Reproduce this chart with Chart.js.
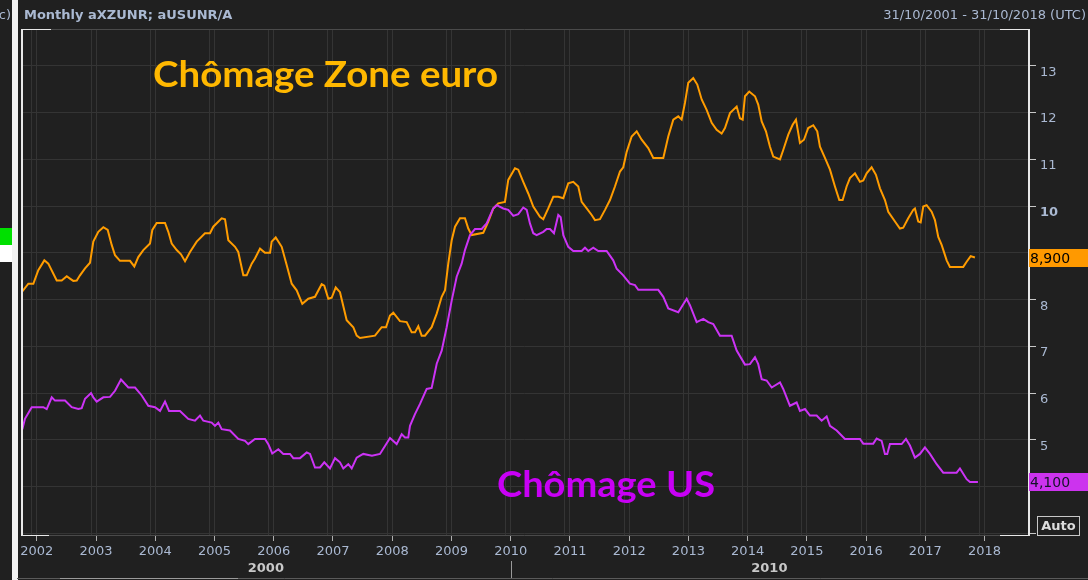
<!DOCTYPE html>
<html><head><meta charset="utf-8">
<script src="https://cdn.jsdelivr.net/npm/chart.js@4.4.1/dist/chart.umd.min.js"></script>
<style>html,body{margin:0;padding:0;background:#202020;overflow:hidden}#wrap{width:1088px;height:580px;position:relative}</style>
</head><body><div id="wrap"><canvas id="c" width="1088" height="580"></canvas></div>
<script>
// ---- data (decimal years, percent) ----
const euroDates = [2001.745,2001.857,2001.941,2002.025,2002.127,2002.194,2002.336,2002.42,2002.505,2002.56,2002.616,2002.674,2002.729,2002.814,2002.898,2002.954,2003.038,2003.123,2003.197,2003.264,2003.32,2003.404,2003.573,2003.646,2003.713,2003.798,2003.911,2003.95,2004.024,2004.164,2004.22,2004.277,2004.362,2004.434,2004.502,2004.586,2004.699,2004.839,2004.924,2004.979,2005.121,2005.177,2005.233,2005.346,2005.401,2005.486,2005.543,2005.628,2005.683,2005.768,2005.852,2005.937,2005.965,2006.033,2006.134,2006.218,2006.303,2006.387,2006.482,2006.583,2006.696,2006.809,2006.853,2006.921,2006.978,2007.046,2007.118,2007.231,2007.343,2007.40,2007.456,2007.709,2007.822,2007.895,2007.962,2008.018,2008.131,2008.244,2008.329,2008.384,2008.44,2008.497,2008.553,2008.666,2008.751,2008.835,2008.891,2008.946,2009.004,2009.06,2009.144,2009.228,2009.284,2009.341,2009.537,2009.622,2009.706,2009.79,2009.903,2009.959,2010.072,2010.128,2010.212,2010.297,2010.381,2010.494,2010.55,2010.634,2010.719,2010.803,2010.888,2010.972,2011.056,2011.141,2011.198,2011.283,2011.367,2011.423,2011.507,2011.592,2011.676,2011.76,2011.845,2011.90,2011.958,2012.042,2012.127,2012.211,2012.322,2012.407,2012.576,2012.66,2012.745,2012.829,2012.886,2012.942,2012.998,2013.082,2013.15,2013.224,2013.308,2013.393,2013.477,2013.561,2013.617,2013.702,2013.815,2013.87,2013.916,2013.955,2014.027,2014.124,2014.179,2014.237,2014.309,2014.377,2014.432,2014.546,2014.601,2014.686,2014.76,2014.816,2014.883,2014.951,2015.023,2015.108,2015.175,2015.221,2015.305,2015.39,2015.474,2015.547,2015.604,2015.671,2015.727,2015.812,2015.896,2015.952,2016.009,2016.093,2016.166,2016.234,2016.318,2016.374,2016.487,2016.571,2016.627,2016.711,2016.796,2016.824,2016.88,2016.921,2016.965,2017.022,2017.106,2017.162,2017.218,2017.275,2017.36,2017.415,2017.64,2017.697,2017.765,2017.837];
const euroValues = [8.16,8.34,8.34,8.63,8.84,8.77,8.41,8.41,8.50,8.45,8.40,8.41,8.52,8.67,8.79,9.24,9.45,9.55,9.49,9.17,8.95,8.83,8.83,8.71,8.91,9.06,9.20,9.49,9.64,9.64,9.45,9.20,9.06,8.97,8.82,9.02,9.24,9.42,9.42,9.56,9.74,9.72,9.27,9.13,9.02,8.52,8.52,8.77,8.88,9.09,9.00,9.00,9.24,9.33,9.13,8.74,8.34,8.20,7.91,8.02,8.06,8.33,8.30,8.02,8.04,8.26,8.16,7.56,7.41,7.23,7.18,7.23,7.41,7.41,7.66,7.72,7.54,7.52,7.30,7.30,7.43,7.23,7.23,7.41,7.70,8.06,8.20,8.77,9.27,9.56,9.74,9.74,9.52,9.38,9.43,9.67,9.95,10.06,10.09,10.56,10.81,10.78,10.52,10.27,9.99,9.77,9.72,9.95,10.20,10.20,10.17,10.49,10.52,10.42,10.09,9.95,9.81,9.70,9.72,9.92,10.13,10.42,10.74,10.83,11.16,11.49,11.60,11.42,11.24,11.03,11.03,11.49,11.85,11.92,11.85,12.21,12.64,12.74,12.60,12.28,12.06,11.78,11.63,11.55,11.67,11.99,12.13,11.88,11.85,12.35,12.45,12.35,12.17,11.81,11.60,11.27,11.06,11.00,11.20,11.53,11.74,11.85,11.35,11.42,11.67,11.73,11.60,11.27,11.03,10.78,10.42,10.13,10.13,10.42,10.60,10.70,10.52,10.55,10.70,10.83,10.67,10.38,10.13,9.88,9.67,9.52,9.54,9.74,9.92,9.95,9.67,9.65,9.99,10.02,9.88,9.70,9.34,9.17,8.84,8.70,8.70,8.81,8.93,8.90];
const usDates = [2001.755,2001.80,2001.914,2002.11,2002.167,2002.252,2002.307,2002.476,2002.589,2002.701,2002.758,2002.814,2002.915,2002.954,2003.011,2003.123,2003.236,2003.32,2003.421,2003.545,2003.658,2003.771,2003.882,2003.995,2004.08,2004.164,2004.232,2004.304,2004.417,2004.557,2004.67,2004.755,2004.811,2004.952,2005.008,2005.064,2005.121,2005.261,2005.401,2005.515,2005.57,2005.683,2005.852,2005.908,2005.975,2006.077,2006.161,2006.274,2006.33,2006.443,2006.556,2006.612,2006.696,2006.781,2006.853,2006.949,2007.034,2007.118,2007.174,2007.258,2007.316,2007.40,2007.511,2007.658,2007.793,2007.878,2007.962,2008.075,2008.16,2008.215,2008.271,2008.30,2008.384,2008.469,2008.582,2008.666,2008.751,2008.835,2008.919,2009.004,2009.088,2009.172,2009.228,2009.313,2009.397,2009.51,2009.594,2009.706,2009.763,2009.875,2009.959,2010.044,2010.128,2010.212,2010.27,2010.325,2010.381,2010.438,2010.55,2010.607,2010.663,2010.73,2010.803,2010.844,2010.888,2010.972,2011.056,2011.198,2011.254,2011.31,2011.394,2011.478,2011.62,2011.731,2011.789,2011.90,2012.013,2012.098,2012.154,2012.491,2012.576,2012.66,2012.829,2012.971,2013.026,2013.139,2013.251,2013.335,2013.42,2013.533,2013.73,2013.815,2013.955,2014.039,2014.124,2014.179,2014.237,2014.321,2014.406,2014.546,2014.601,2014.714,2014.827,2014.883,2014.968,2015.052,2015.165,2015.249,2015.334,2015.39,2015.503,2015.643,2015.896,2015.952,2016.12,2016.178,2016.262,2016.318,2016.357,2016.402,2016.60,2016.673,2016.74,2016.824,2016.909,2016.993,2017.078,2017.191,2017.302,2017.528,2017.584,2017.697,2017.753,2017.888];
const usValues = [5.23,5.45,5.70,5.70,5.66,5.91,5.84,5.84,5.70,5.66,5.68,5.88,6.00,5.91,5.82,5.91,5.92,6.05,6.29,6.12,6.12,5.95,5.73,5.70,5.62,5.82,5.62,5.62,5.62,5.45,5.41,5.52,5.41,5.37,5.30,5.37,5.23,5.20,5.02,4.98,4.91,5.02,5.02,4.91,4.71,4.80,4.70,4.70,4.61,4.61,4.73,4.70,4.41,4.41,4.52,4.39,4.61,4.52,4.39,4.48,4.39,4.62,4.70,4.66,4.70,4.87,5.04,4.91,5.12,5.05,5.05,5.30,5.55,5.77,6.09,6.11,6.63,6.91,7.41,7.98,8.49,8.77,9.06,9.38,9.51,9.51,9.63,9.95,10.02,9.95,9.92,9.79,9.83,9.97,9.92,9.63,9.42,9.38,9.45,9.51,9.51,9.42,9.81,9.76,9.38,9.13,9.04,9.04,9.11,9.04,9.11,9.04,9.04,8.84,8.66,8.52,8.34,8.31,8.21,8.21,8.06,7.81,7.73,8.02,7.88,7.52,7.59,7.52,7.48,7.23,7.23,6.91,6.61,6.62,6.77,6.62,6.30,6.27,6.12,6.23,6.09,5.73,5.80,5.62,5.66,5.52,5.52,5.41,5.50,5.30,5.20,5.02,5.02,4.92,4.92,5.03,4.98,4.70,4.70,4.91,4.91,5.02,4.88,4.62,4.70,4.84,4.70,4.48,4.30,4.30,4.39,4.16,4.10,4.10];
const yearTicks = [2002,2003,2004,2005,2006,2007,2008,2009,2010,2011,2012,2013,2014,2015,2016,2017,2018];
const valueTicks = [3,4,5,6,7,8,9,10,11,12,13];
const hiddenTickLabels = [3,4];
const decadeLabels = ['2000','2010'];
const seriesNames = ['Chômage Zone euro','Chômage US'];
const lastLabels = ['8,900','4,100'];
const lastValues = [8.9,4.1];
const headerLeft = 'Monthly aXZUNR; aUSUNR/A';
const headerRight = '31/10/2001 - 31/10/2018 (UTC)';

const BG = '#202020', GRID = '#343434', LBL = '#aab9d2';
const ORANGE = '#ff9c00', PURPLE = '#cc33f5';

function fitText(c, txt, x, y, width) {
  const w = c.measureText(txt).width;
  c.save(); c.translate(x, y); c.scale(width / w, 1); c.fillText(txt, 0, 0); c.restore();
}

const frame = {
  id: 'frame',
  beforeDraw(chart) {
    const c = chart.ctx;
    c.save(); c.fillStyle = BG; c.fillRect(0, 0, chart.width, chart.height); c.restore();
  },
  beforeDatasetsDraw(chart) {
    const c = chart.ctx, x = chart.scales.x, a = chart.chartArea;
    c.save(); c.strokeStyle = GRID; c.lineWidth = 1;
    yearTicks.forEach(y => {
      const px = Math.round(x.getPixelForValue(y - 0.093)) + 0.5;
      if (px > a.left) { c.beginPath(); c.moveTo(px, a.top); c.lineTo(px, a.bottom); c.stroke(); }
    });
    c.restore();
  },
  afterDraw(chart) {
    const c = chart.ctx, a = chart.chartArea, ys = chart.scales.y, xs = chart.scales.x;
    c.save();
    // left strip
    c.fillStyle = '#f2f2f2'; c.fillRect(12, 0, 6, 580);
    c.fillStyle = '#00e000'; c.fillRect(0, 228, 12, 17);
    c.fillStyle = '#ffffff'; c.fillRect(0, 245, 12, 17);
    c.fillStyle = LBL; c.font = '13px "DejaVu Sans"'; c.textBaseline = 'alphabetic';
    c.textAlign = 'right'; c.fillText('c)', 11, 19);
    // header
    c.textAlign = 'left'; c.font = 'bold 13px "DejaVu Sans"'; c.fillStyle = LBL;
    c.fillText(headerLeft, 24, 19);
    c.textAlign = 'right'; c.font = '13px "DejaVu Sans"';
    c.fillText(headerRight, 1086, 19);
    // frame
    c.lineWidth = 1;
    c.strokeStyle = '#4a4a4a';
    c.beginPath(); c.moveTo(a.left, a.top + 0.5); c.lineTo(a.right, a.top + 0.5); c.stroke();
    c.beginPath(); c.moveTo(a.left, a.bottom + 0.5); c.lineTo(a.right, a.bottom + 0.5); c.stroke();
    c.strokeStyle = '#e8e8e8'; c.lineWidth = 2;
    c.beginPath(); c.moveTo(a.left + 1, a.top); c.lineTo(a.left + 1, a.bottom + 1); c.stroke();
    c.beginPath(); c.moveTo(a.right + 1, a.top); c.lineTo(a.right + 1, a.bottom + 1); c.stroke();
    c.lineWidth = 1;
    c.beginPath(); c.moveTo(a.left, a.top + 0.5); c.lineTo(a.left + 30, a.top + 0.5); c.stroke();
    c.beginPath(); c.moveTo(a.right - 28, a.top + 0.5); c.lineTo(a.right, a.top + 0.5); c.stroke();
    c.beginPath(); c.moveTo(a.left, a.bottom + 0.5); c.lineTo(a.left + 28, a.bottom + 0.5); c.stroke();
    c.beginPath(); c.moveTo(a.right - 28, a.bottom + 0.5); c.lineTo(a.right, a.bottom + 0.5); c.stroke();
    // last value badges
    const badge = (v, txt, col, tcol) => {
      const py = Math.round(ys.getPixelForValue(v));
      c.fillStyle = col; c.fillRect(a.right + 1, py - 9, 1088 - a.right - 1, 18);
      c.fillStyle = tcol; c.font = '14px "DejaVu Sans"'; c.textAlign = 'left'; c.textBaseline = 'middle';
      c.fillText(txt, a.right + 2, py + 1);
    };
    badge(lastValues[0], lastLabels[0], '#ff9900', '#000000');
    badge(lastValues[1], lastLabels[1], '#cc33ee', '#141428');
    // Auto box
    c.fillStyle = BG; c.fillRect(1037, 516, 43, 20);
    c.strokeStyle = '#c8c8c8'; c.lineWidth = 1; c.strokeRect(1037.5, 516.5, 42, 19);
    c.fillStyle = '#dcdcdc'; c.font = 'bold 13px "DejaVu Sans"'; c.textAlign = 'center'; c.textBaseline = 'middle';
    c.fillText('Auto', 1058.5, 526.5);
    // decade row
    c.font = 'bold 13px "DejaVu Sans"'; c.fillStyle = '#c8c8c8'; c.textAlign = 'center'; c.textBaseline = 'middle';
    const x2010 = xs.getPixelForValue(2010);
    c.fillText(decadeLabels[0], (a.left + x2010) / 2, 569);
    c.fillText(decadeLabels[1], (x2010 + a.right) / 2, 569);
    c.strokeStyle = '#9a9a9a'; c.beginPath(); c.moveTo(Math.round(x2010) + 0.5, 561); c.lineTo(Math.round(x2010) + 0.5, 578); c.stroke();
    // bottom scrollbar line
    c.strokeStyle = '#5a5a5a'; c.beginPath(); c.moveTo(17, 578.5); c.lineTo(1088, 578.5); c.stroke();
    c.strokeStyle = '#9a9a9a'; c.beginPath(); c.moveTo(60, 578.5); c.lineTo(238, 578.5); c.stroke();
    // series annotations
    c.textAlign = 'left'; c.textBaseline = 'alphabetic';
    c.font = 'bold 36px Lato';
    c.fillStyle = '#ffb800'; fitText(c, seriesNames[0], 153, 87, 345);
    c.fillStyle = '#c800f5'; fitText(c, seriesNames[1], 497, 497, 218);
    c.restore();
  }
};

new Chart(document.getElementById('c'), {
  type: 'line',
  data: {
    datasets: [
      { label: seriesNames[0], data: euroDates.map((d, i) => ({ x: d, y: euroValues[i] })),
        borderColor: ORANGE, borderWidth: 2, pointRadius: 0, tension: 0, fill: false, order: 1 },
      { label: seriesNames[1], data: usDates.map((d, i) => ({ x: d, y: usValues[i] })),
        borderColor: PURPLE, borderWidth: 2, pointRadius: 0, tension: 0, fill: false, order: 0 }
    ]
  },
  options: {
    responsive: false, animation: false, devicePixelRatio: 1,
    layout: { padding: { left: 21, top: 29, right: 0, bottom: 0 } },
    plugins: { legend: { display: false }, tooltip: { enabled: false }, title: { display: false } },
    scales: {
      x: {
        type: 'linear', position: 'bottom', min: 2001.733, max: 2018.733,
        afterBuildTicks: s => { s.ticks = yearTicks.map(v => ({ value: v })); },
        afterFit: s => { s.height = 45; },
        ticks: { callback: v => String(v), color: LBL, font: { family: 'DejaVu Sans', size: 13 },
                 maxRotation: 0, autoSkip: false, padding: 3 },
        grid: { color: GRID, tickColor: '#b0b0b0', tickLength: 6, lineWidth: 1 },
        border: { display: false }
      },
      y: {
        type: 'linear', position: 'right', min: 2.966, max: 13.788,
        afterBuildTicks: s => { s.ticks = valueTicks.map(v => ({ value: v })); },
        afterFit: s => { s.width = 60; },
        ticks: { callback: v => (hiddenTickLabels.includes(v) ? '' : String(v)), color: LBL, padding: 4, align: 'start',
                 font: ctx => ({ family: 'DejaVu Sans', size: 13, weight: (ctx.tick && ctx.tick.value === 10) ? 'bold' : 'normal' }) },
        grid: { color: GRID, tickColor: '#c8c8c8', tickLength: 8, lineWidth: 1 },
        border: { display: false }
      }
    }
  },
  plugins: [frame]
});
</script></body></html>
